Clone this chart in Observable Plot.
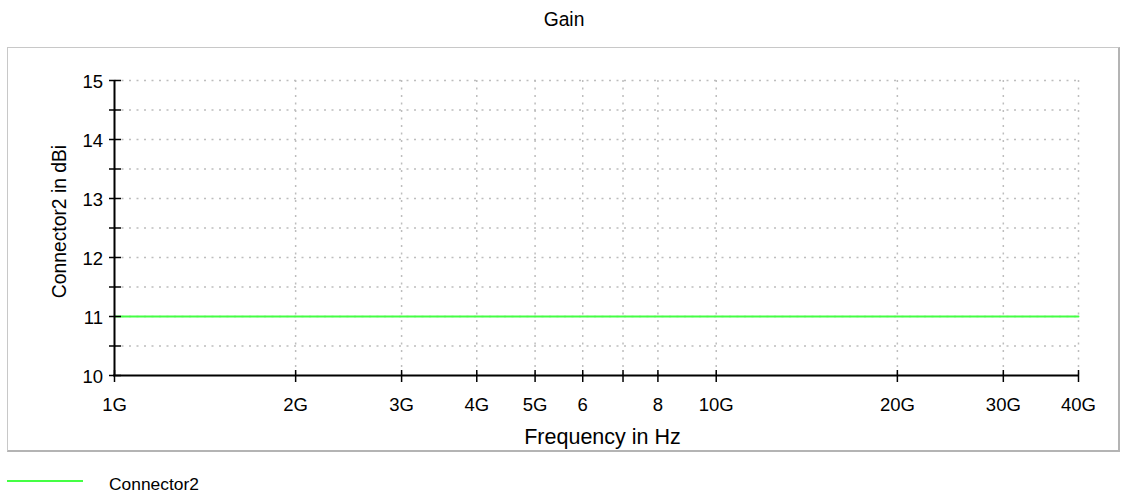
<!DOCTYPE html>
<html><head><meta charset="utf-8">
<script src="https://cdn.jsdelivr.net/npm/d3@7"></script>
<script src="https://cdn.jsdelivr.net/npm/@observablehq/plot@0.6"></script>
<style>
body{margin:0;background:#fff;font-family:"Liberation Sans",Arial,sans-serif;color:#000;}
#wrap{position:relative;width:1125px;height:496px;overflow:hidden;}
#box{position:absolute;left:7px;top:47px;width:1110px;height:402px;border-top:1px solid #c8c8c8;border-left:1px solid #c8c8c8;border-right:2px solid #b4b4b4;border-bottom:2px solid #b4b4b4;pointer-events:none;}
#legline{position:absolute;left:7px;top:480px;width:76px;height:2px;background:#44ff44;}
#legtext{position:absolute;left:109px;top:476px;font-size:17.4px;line-height:1;white-space:nowrap;}
</style></head>
<body>
<div id="wrap">
  <div id="chart"></div>
  <div id="box"></div>
  <div id="legline"></div>
  <div id="legtext"></div>
</div>
<script>
const title = "Gain";
const xLabel = "Frequency in Hz";
const yLabel = "Connector2 in dBi";
const seriesName = "Connector2";

const freqs = [1e9, 2e9, 3e9, 4e9, 5e9, 6e9, 7e9, 8e9, 10e9, 20e9, 30e9, 40e9];
const gains = [11, 11, 11, 11, 11, 11, 11, 11, 11, 11, 11, 11];

const xTicks = [1e9, 2e9, 3e9, 4e9, 5e9, 6e9, 7e9, 8e9, 10e9, 20e9, 30e9, 40e9];
const xTickLabels = ["1G", "2G", "3G", "4G", "5G", "6", "", "8", "10G", "20G", "30G", "40G"];
const yTicks = [10, 10.5, 11, 11.5, 12, 12.5, 13, 13.5, 14, 14.5, 15];
const yTickLabels = ["10", "", "11", "", "12", "", "13", "", "14", "", "15"];

const data = freqs.map((f, i) => ({f, g: gains[i]}));
const xLab = xTicks.map((v, i) => ({v, t: xTickLabels[i]})).filter(d => d.t !== "");
const yLab = yTicks.map((v, i) => ({v, t: yTickLabels[i]})).filter(d => d.t !== "");
const xGrid = xTicks.slice(1);
const yGrid = yTicks.slice(1);

const font = '"Liberation Sans", Arial, sans-serif';
const gridStyle = {stroke: "#bdbdbd", strokeWidth: 1.5, strokeDasharray: "2,5.5"};

const chart = Plot.plot({
  width: 1125,
  height: 496,
  marginLeft: 114,
  marginRight: 47,
  marginTop: 80,
  marginBottom: 121,
  style: {background: "transparent", fontFamily: font, color: "#000", overflow: "visible"},
  x: {type: "log", domain: [1e9, 40e9], axis: null},
  y: {domain: [10, 15], axis: null},
  marks: [
    Plot.ruleX(xGrid, {x: d => d, ...gridStyle}),
    Plot.ruleY(yGrid, {y: d => d, ...gridStyle}),
    Plot.line(data, {x: "f", y: "g", stroke: "#44ff44", strokeWidth: 2}),
    Plot.ruleX([1e9], {x: d => d, stroke: "#000", strokeWidth: 2}),
    Plot.ruleY([10], {y: d => d, stroke: "#000", strokeWidth: 2, insetLeft: -1}),
    Plot.tickY(yTicks, {y: d => d, stroke: "#000", strokeWidth: 1.5, insetLeft: -5, insetRight: 957}),
    Plot.tickX(xTicks, {x: d => d, stroke: "#000", strokeWidth: 1.5, insetTop: 290, insetBottom: -7}),
    Plot.text(yLab, {y: "v", text: "t", frameAnchor: "left", textAnchor: "end", dx: -11.5, dy: 2, fontSize: 18.5}),
    Plot.text(xLab, {x: "v", text: "t", frameAnchor: "bottom", lineAnchor: "bottom", dy: 35, fontSize: 18.5}),
    Plot.text([xLabel], {text: d => d, frameAnchor: "bottom", textAnchor: "middle", lineAnchor: "bottom", dx: 6, dy: 68, fontSize: 21.5}),
    Plot.text([yLabel], {text: d => d, frameAnchor: "left", textAnchor: "middle", lineAnchor: "bottom", rotate: -90, dx: -48.5, dy: -6.5, fontSize: 19.3}),
    Plot.text([title], {text: d => d, frameAnchor: "top-left", textAnchor: "middle", lineAnchor: "bottom", dx: 449.5, dy: -54.3, fontSize: 19.3})
  ]
});
document.getElementById("chart").appendChild(chart);
document.getElementById("legtext").textContent = seriesName;
</script>
</body></html>
